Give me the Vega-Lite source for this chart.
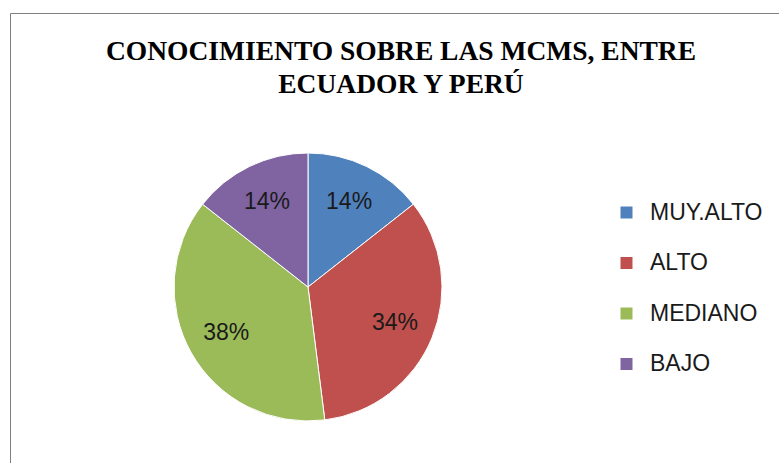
{
  "$schema": "https://vega.github.io/schema/vega-lite/v6.json",
  "width": 280,
  "height": 280,
  "autosize": {"type": "none"},
  "padding": {"left": 168, "top": 147, "right": 331, "bottom": 36},
  "background": "white",
  "title": {
    "text": ["CONOCIMIENTO SOBRE LAS MCMS, ENTRE", "ECUADOR Y PERÚ"],
    "font": "Liberation Serif",
    "fontSize": 27.5,
    "fontWeight": "bold",
    "color": "#000000",
    "anchor": "middle",
    "frame": "group",
    "dx": 93,
    "dy": 86,
    "offset": 0,
    "lineHeight": 33
  },
  "data": {
    "values": [
      {"nivel": "MUY.ALTO", "valor": 0.144, "orden": 1},
      {"nivel": "ALTO", "valor": 0.336, "orden": 2},
      {"nivel": "MEDIANO", "valor": 0.376, "orden": 3},
      {"nivel": "BAJO", "valor": 0.144, "orden": 4}
    ]
  },
  "encoding": {
    "theta": {"field": "valor", "type": "quantitative", "stack": true},
    "order": {"field": "orden", "type": "quantitative"}
  },
  "layer": [
    {
      "mark": {"type": "arc", "outerRadius": 134, "stroke": "#ffffff", "strokeWidth": 1},
      "encoding": {
        "color": {
          "field": "nivel",
          "type": "nominal",
          "scale": {
            "domain": ["MUY.ALTO", "ALTO", "MEDIANO", "BAJO"],
            "range": ["#4F81BD", "#C0504D", "#9BBB59", "#8064A2"]
          },
          "legend": {
            "orient": "none",
            "legendX": -158,
            "legendY": -134,
            "title": " ",
            "titleOrient": "left",
            "titleFontSize": 1,
            "titlePadding": 417,
            "padding": 188,
            "strokeColor": "#7f7f7f",
            "symbolType": "square",
            "symbolSize": 144,
            "symbolStrokeWidth": 0,
            "labelFont": "Liberation Sans",
            "labelFontSize": 23,
            "labelColor": "#1a1a1a",
            "labelOffset": 12,
            "rowPadding": 26.5,
            "labelLimit": 300,
            "encode": {"legend": {"update": {"strokeWidth": {"value": 2}, "stroke": {"value": "#7f7f7f"}}}}
          }
        }
      }
    },
    {
      "mark": {"type": "text", "radius": 94, "font": "Liberation Sans", "fontSize": 23, "color": "#1a1a1a"},
      "encoding": {
        "text": {"field": "valor", "type": "quantitative", "format": ".0%"},
        "detail": {"field": "nivel", "type": "nominal"}
      }
    }
  ],
  "config": {"view": {"stroke": null}}
}
